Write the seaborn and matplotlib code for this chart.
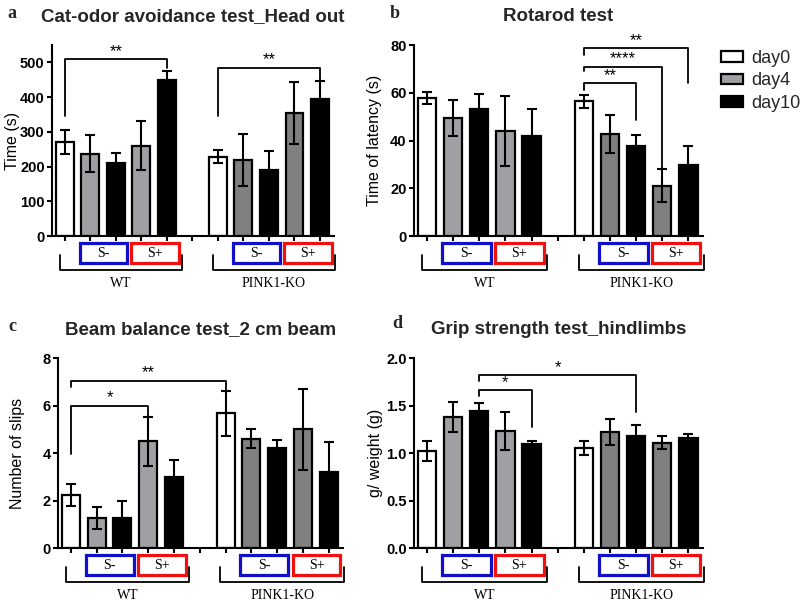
import numpy as np
import pandas as pd
import matplotlib
matplotlib.use('Agg')
import matplotlib.pyplot as plt
import seaborn as sns
from matplotlib.patches import Rectangle, Patch
from matplotlib.transforms import blended_transform_factory

sns.set_theme(style='ticks')
plt.rcParams['font.family'] = ['Liberation Sans', 'DejaVu Sans']
SERIF = ['Liberation Serif', 'DejaVu Serif']

# bar slots: 5 WT bars, a gap, 5 PINK1-KO bars
positions = [0, 1, 2, 3, 4, 6, 7, 8, 9, 10]
bar_colors = ['day0', 'day4_wt', 'day10', 'day4_wt', 'day10',
              'day0', 'day4_ko', 'day10', 'day4_ko', 'day10']
palette = {'day0': 'white', 'day4_wt': '#a0a0a4', 'day4_ko': '#808080', 'day10': 'black'}

# a: cat-odor avoidance
cat_mean = [271, 237, 209, 260, 448, 229, 219, 191, 355, 396]
cat_err = [35, 54, 30, 71, 28, 20, 74, 54, 90, 51]
# b: rotarod
rota_mean = [57.8, 49.4, 53.3, 44.1, 41.7, 56.4, 42.8, 37.6, 21.1, 29.8]
rota_err = [2.5, 7.4, 6.0, 14.7, 11.4, 2.6, 8.0, 4.6, 6.8, 7.8]
# c: beam balance
beam_mean = [2.25, 1.25, 1.25, 4.5, 3.0, 5.68, 4.6, 4.22, 5.0, 3.2]
beam_err = [0.46, 0.47, 0.74, 1.03, 0.69, 0.95, 0.4, 0.35, 1.7, 1.28]
# d: grip strength
grip_mean = [1.025, 1.38, 1.445, 1.235, 1.09, 1.05, 1.22, 1.18, 1.11, 1.16]
grip_err = [0.105, 0.16, 0.085, 0.2, 0.04, 0.075, 0.14, 0.11, 0.065, 0.045]

# significance: (x from, x to, bracket y, left leg end, right leg end, stars)
cat_sig = [(0, 4, 510, 345, 485, '**'), (6, 10, 485, 345, 403, '**')]
rota_sig = [(6, 8, 64, 61.3, 48.4, '**'), (6, 9, 71, 69, 28.4, '****'),
            (6, 10, 78.7, 76, 64, '**')]
beam_sig = [(0, 3, 6.0, 3.97, 5.54, '*'), (0, 6, 7.05, 6.78, 6.64, '**')]
grip_sig = [(2, 4, 1.667, 1.6, 1.27, '*'), (2, 8, 1.825, 1.76, 1.43, '*')]

panels = [
    ('a', 'Cat-odor avoidance test_Head out', 'Time (s)', cat_mean, cat_err, cat_sig,
     (0, 550), [0, 100, 200, 300, 400, 500], ['0', '100', '200', '300', '400', '500'],
     [0.065, 0.6086, 0.3525, 0.3167], -0.1135),
    ('b', 'Rotarod test', 'Time of latency (s)', rota_mean, rota_err, rota_sig,
     (0, 80), [0, 20, 40, 60, 80], ['0', '20', '40', '60', '80'],
     [0.5175, 0.6086, 0.361, 0.3167], -0.11),
    ('c', 'Beam balance test_2 cm beam', 'Number of slips', beam_mean, beam_err, beam_sig,
     (0, 8), [0, 2, 4, 6, 8], ['0', '2', '4', '6', '8'],
     [0.0725, 0.0912, 0.356, 0.315], -0.116),
    ('d', 'Grip strength test_hindlimbs', 'g/ weight (g)', grip_mean, grip_err, grip_sig,
     (0, 2.0), [0, 0.5, 1.0, 1.5, 2.0], ['0.0', '0.5', '1.0', '1.5', '2.0'],
     [0.5175, 0.0912, 0.361, 0.315], -0.107),
]
letter_pos = {'a': (0.015, 0.978), 'b': (0.494, 0.978), 'c': (0.015, 0.458), 'd': (0.496, 0.464)}

fig = plt.figure(figsize=(8, 6.03), dpi=100)

for letter, title, ylabel, means, errs, sigs, ylim, yticks, ylabels, rect, ylab_x in panels:
    ax = fig.add_axes(rect)
    df = pd.DataFrame({'pos': positions, 'mean': means, 'color': bar_colors})
    sns.barplot(data=df, x='pos', y='mean', hue='color', palette=palette, native_scale=True,
                width=0.7, dodge=False, edgecolor='black', linewidth=1.6, legend=False,
                errorbar=None, ax=ax)
    ax.errorbar(positions, means, yerr=errs, fmt='none', ecolor='black',
                elinewidth=1.5, capsize=3.8, capthick=1.5, zorder=3)

    ax.set_xlim(-0.5, 10.55)
    ax.set_ylim(*ylim)
    ax.set_xticks(range(11))
    ax.set_xticklabels([])
    ax.set_yticks(yticks, labels=ylabels, fontweight='bold')
    ax.tick_params(axis='both', direction='out', length=3.8, width=1.5, labelsize=10.5,
                   pad=1.5, color='black', labelcolor='black')
    ax.set_xlabel('')
    ax.set_ylabel(ylabel, fontsize=11.5, color='black')
    ax.yaxis.set_label_coords(ylab_x, 0.5)
    sns.despine(ax=ax)
    for s in ['left', 'bottom']:
        ax.spines[s].set_linewidth(1.5)
        ax.spines[s].set_color('black')
    ax.set_title(title, fontsize=13.5, fontweight='bold', pad=17)

    # significance brackets
    for x1, x2, y, yl, yr, star in sigs:
        ax.plot([x1, x1, x2, x2], [yl, y, y, yr], color='black', lw=1.3, clip_on=False)
        ax.text((x1 + x2) / 2, y, star, ha='center', va='bottom', fontsize=12, color='black')

    # group annotation below the x axis
    H = rect[3] * 603
    trans = blended_transform_factory(ax.transData, ax.transAxes)
    for g, name in [(0, 'WT'), (6, 'PINK1-KO')]:
        for x0, col, lab in [(g + 0.58, '#1010c8', 'S-'), (g + 2.6, '#f01010', 'S+')]:
            ax.add_patch(Rectangle((x0, -27 / H), 1.86, 20 / H, fill=False, edgecolor=col,
                                   lw=2.3, transform=trans, clip_on=False))
            ax.text(x0 + 0.93, -17 / H, lab, ha='center', va='center', fontsize=10,
                    family=SERIF, color='black', transform=trans)
        ax.plot([g - 0.2, g - 0.2, g + 4.6, g + 4.6], [-19 / H, -34 / H, -34 / H, -19 / H],
                color='black', lw=1.3, transform=trans, clip_on=False)
        ax.text(g + 2.2, -47 / H, name, ha='center', va='center', fontsize=10,
                family=SERIF, color='black', transform=trans)

    fig.text(*letter_pos[letter], letter, ha='center', va='center', fontsize=13,
             fontweight='bold', family=SERIF)

handles = [Patch(facecolor='white', edgecolor='black', lw=1.6),
           Patch(facecolor='#a0a0a4', edgecolor='black', lw=1.6),
           Patch(facecolor='black', edgecolor='black', lw=1.6)]
fig.legend(handles, ['day0', 'day4', 'day10'], loc='upper left',
           bbox_to_anchor=(721 / 800, 1 - 50 / 603), frameon=False, fontsize=13,
           handlelength=1.2, handleheight=0.55, labelspacing=0.3, handletextpad=0.5,
           borderaxespad=0, borderpad=0)

fig.savefig('out.png', dpi=100)
